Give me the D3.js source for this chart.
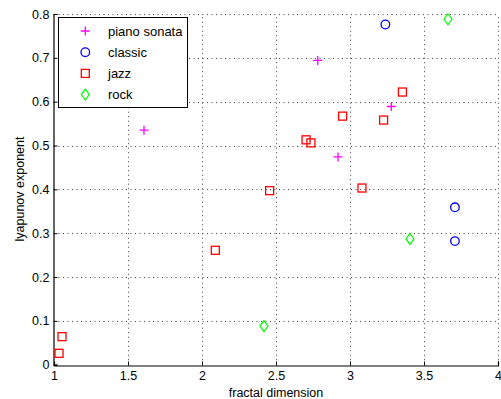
<!DOCTYPE html>
<html>
<head>
<meta charset="utf-8">
<script src="https://cdn.jsdelivr.net/npm/d3@7"></script>
<style>
  body { margin: 0; background: #fff; }
  text { font-family: "Liberation Sans", Arial, sans-serif; fill: #000; }
</style>
</head>
<body>
<div id="chart"></div>
<script>
// data
const pianoX = [1.608, 2.782, 3.279, 2.919];
const pianoY = [0.535, 0.694, 0.589, 0.474];
const classicX = [3.239, 3.709, 3.709];
const classicY = [0.776, 0.359, 0.282];
const jazzX = [3.354, 2.950, 3.227, 2.703, 2.736, 2.457, 3.081, 2.090, 1.054, 1.034];
const jazzY = [0.622, 0.567, 0.558, 0.513, 0.506, 0.397, 0.403, 0.261, 0.064, 0.026];
const rockX = [3.662, 3.405, 2.419];
const rockY = [0.788, 0.287, 0.088];
const xTicks = [1, 1.5, 2, 2.5, 3, 3.5, 4];
const yTicks = [0, 0.1, 0.2, 0.3, 0.4, 0.5, 0.6, 0.7, 0.8];

const series = [
  { name: "piano sonata", xs: pianoX, ys: pianoY, shape: "plus", color: "#ff00ff" },
  { name: "classic", xs: classicX, ys: classicY, shape: "circle", color: "#0000ff" },
  { name: "jazz", xs: jazzX, ys: jazzY, shape: "square", color: "#ff0000" },
  { name: "rock", xs: rockX, ys: rockY, shape: "diamond", color: "#00ff00" }
];

const width = 501, height = 399;
const svg = d3.select("#chart").append("svg")
  .attr("width", width).attr("height", height);

const x = d3.scaleLinear().domain([1, 4]).range([54, 498]);
const y = d3.scaleLinear().domain([0, 0.8]).range([364.7, 14]);

// dotted grid
const grid = svg.append("g").attr("stroke", "#444").attr("stroke-width", 1)
  .attr("stroke-dasharray", "1,3.5");
grid.selectAll(".gx").data(xTicks.slice(1)).enter().append("line")
  .attr("x1", d => Math.round(x(d)) + 0.5).attr("x2", d => Math.round(x(d)) + 0.5)
  .attr("y1", y(0)).attr("y2", y(0.8));
grid.selectAll(".gy").data(yTicks.slice(1)).enter().append("line")
  .attr("y1", d => Math.round(y(d)) + 0.5).attr("y2", d => Math.round(y(d)) + 0.5)
  .attr("x1", x(1)).attr("x2", x(4));

// axes
const xAxis = d3.axisBottom(x).tickValues(xTicks).tickSize(-4).tickPadding(6)
  .tickFormat(d3.format("~g"));
const yAxis = d3.axisLeft(y).tickValues(yTicks).tickSize(-4).tickPadding(4)
  .tickFormat(d3.format("~g"));

const gx = svg.append("g").attr("transform", `translate(0,${Math.round(y(0)) + 0.5})`).call(xAxis);
const gy = svg.append("g").attr("transform", `translate(${Math.round(x(1)) - 0.5},0)`).call(yAxis);
[gx, gy].forEach(g => {
  g.select(".domain").attr("stroke", "#000").attr("stroke-width", 1.2);
  g.selectAll(".tick line").attr("stroke", "#000");
  g.selectAll(".tick text").attr("font-size", 12.5)
    .attr("font-family", "Liberation Sans, Arial, sans-serif").attr("fill", "#000");
});

svg.append("text").attr("x", 276).attr("y", 397).attr("text-anchor", "middle")
  .attr("font-size", 12.5).text("fractal dimension");
svg.append("text").attr("transform", "translate(24,189) rotate(-90)")
  .attr("text-anchor", "middle").attr("font-size", 12.5).text("lyapunov exponent");

// marker drawing
function drawMarker(g, shape, color) {
  if (shape === "plus") {
    g.append("path").attr("d", "M-4.5,0H4.5M0,-4.5V4.5")
      .attr("stroke", color).attr("stroke-width", 1.3).attr("fill", "none");
  } else if (shape === "circle") {
    g.append("circle").attr("r", 4.3)
      .attr("stroke", color).attr("stroke-width", 1.3).attr("fill", "none");
  } else if (shape === "square") {
    g.append("rect").attr("x", -4).attr("y", -4).attr("width", 8).attr("height", 8)
      .attr("stroke", color).attr("stroke-width", 1.3).attr("fill", "none");
  } else {
    g.append("path").attr("d", "M0,-5.5L4,0L0,5.5L-4,0Z")
      .attr("stroke", color).attr("stroke-width", 1.2).attr("fill", "none");
  }
}

series.forEach(s => {
  s.xs.forEach((xv, i) => {
    const g = svg.append("g").attr("transform", `translate(${x(xv)},${y(s.ys[i])})`);
    drawMarker(g, s.shape, s.color);
  });
});

// legend
const legend = svg.append("g");
legend.append("rect").attr("x", 58.5).attr("y", 17.5).attr("width", 129).attr("height", 90)
  .attr("fill", "#fff").attr("stroke", "#000").attr("stroke-width", 1);
series.forEach((s, i) => {
  const ly = 31 + i * 21.2;
  const g = legend.append("g").attr("transform", `translate(85.3,${ly})`);
  drawMarker(g, s.shape, s.color);
  legend.append("text").attr("x", 108).attr("y", ly + 4.6).attr("font-size", 13).text(s.name);
});
</script>
</body>
</html>
